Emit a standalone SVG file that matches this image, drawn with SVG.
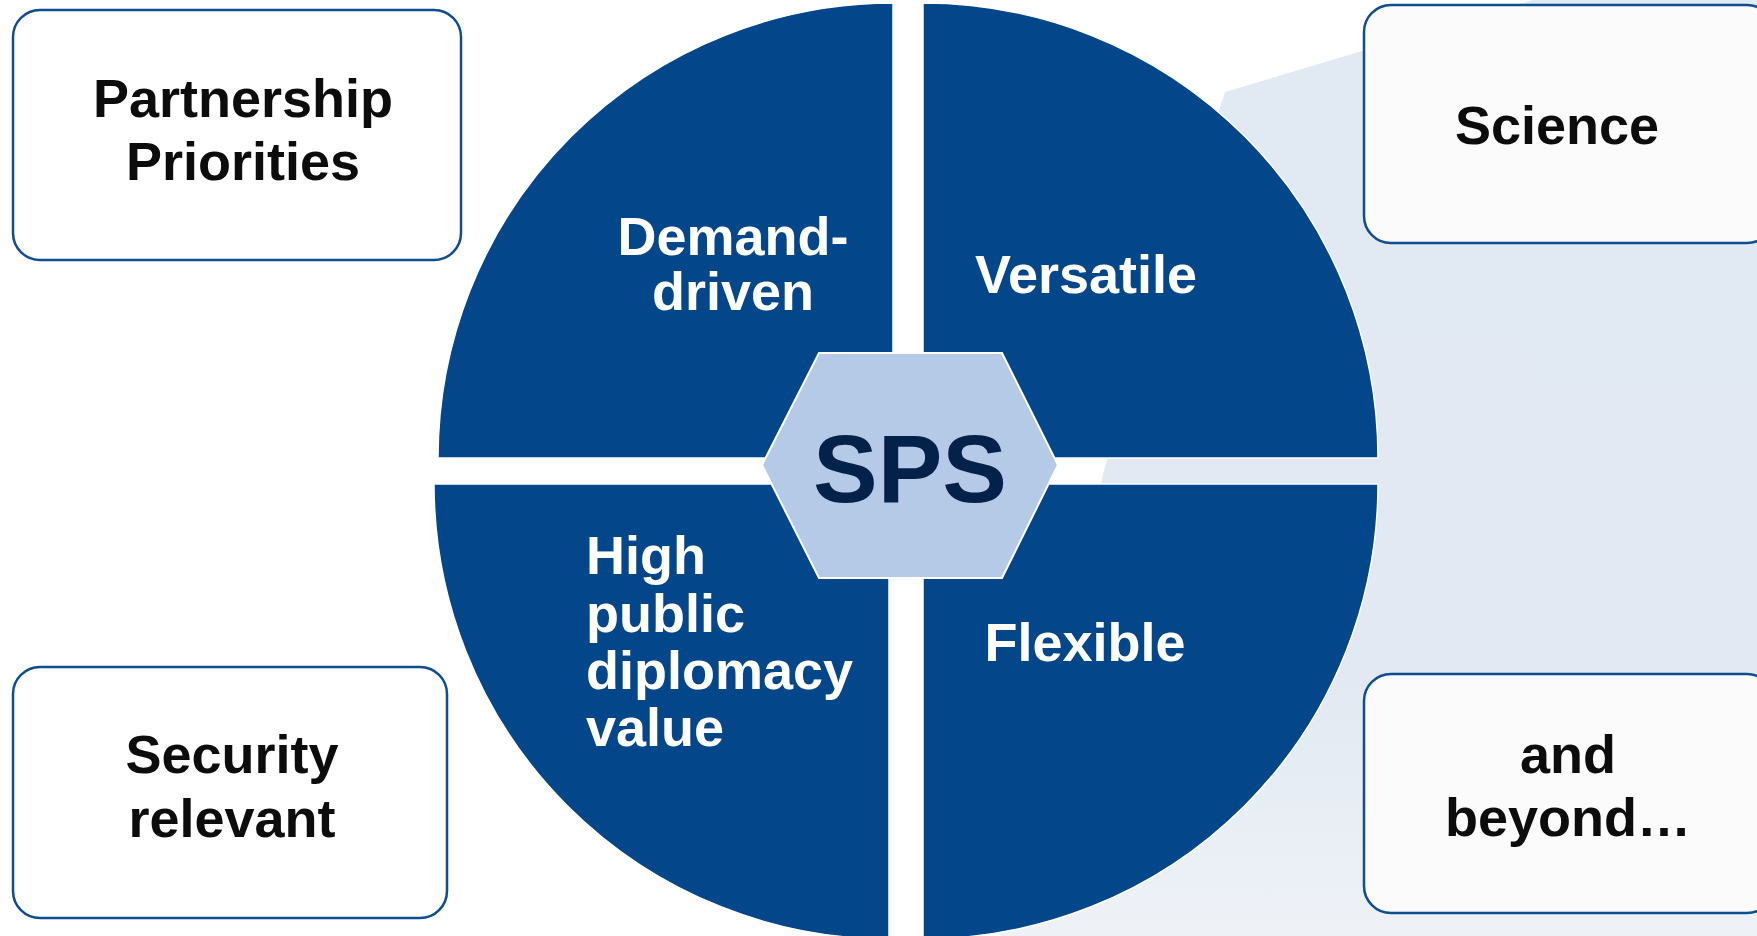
<svg xmlns="http://www.w3.org/2000/svg" width="1757" height="936" viewBox="0 0 1757 936">
  <defs>
    <linearGradient id="bgGrad" gradientUnits="userSpaceOnUse" x1="0" y1="0" x2="0" y2="936">
      <stop offset="0" stop-color="#e1e9f2"/>
      <stop offset="0.72" stop-color="#e2e9f2"/>
      <stop offset="1" stop-color="#eef2f7"/>
    </linearGradient>
  </defs>
  <style>
    .quad { fill: #03468a; stroke: #ffffff; stroke-width: 1.5; }
    .box { stroke: #0e4d8f; stroke-width: 2.5; }
    .boxtxt { font-family: "Liberation Sans", Arial, sans-serif; font-weight: bold; font-size: 54px; fill: #0c0c0c; text-anchor: middle; }
    .qtxt { font-family: "Liberation Sans", Arial, sans-serif; font-weight: bold; font-size: 54px; fill: #ffffff; }
    .mid { text-anchor: middle; }
    .hex { fill: #b5cae7; stroke: #ffffff; stroke-width: 2; }
    .sps { font-family: "Liberation Sans", Arial, sans-serif; font-weight: bold; font-size: 97px; fill: #032249; text-anchor: middle; }
  </style>
  <rect x="0" y="0" width="1757" height="936" fill="#ffffff"/>
  <polygon id="backdrop" points="1533,0 1225,92 1104,470 1000,936 1757,936 1757,0" fill="url(#bgGrad)"/>

  <g id="connectors"/>

  <g id="quad-demand">
    <path class="quad" d="M893,458 L438,458 A455,455 0 0 1 893,3 Z"/>
    <text class="qtxt mid" x="733" y="255">Demand-</text>
    <text class="qtxt mid" x="733" y="310">driven</text>
  </g>
  <g id="quad-versatile">
    <path class="quad" d="M923,458 L923,3 A455,455 0 0 1 1378,458 Z"/>
    <text class="qtxt mid" x="1086" y="293">Versatile</text>
  </g>
  <g id="quad-diplomacy">
    <path class="quad" d="M889,484 L889,939 A455,455 0 0 1 434,484 Z"/>
    <text class="qtxt" x="586" y="574">High</text>
    <text class="qtxt" x="586" y="631.5">public</text>
    <text class="qtxt" x="586" y="689">diplomacy</text>
    <text class="qtxt" x="586" y="746">value</text>
  </g>
  <g id="quad-flexible">
    <path class="quad" d="M923,484 L1378,484 A455,455 0 0 1 923,939 Z"/>
    <text class="qtxt mid" x="1085" y="661">Flexible</text>
  </g>

  <g id="sps-hub">
    <polygon class="hex" points="762,465 819,353 1002,353 1058,465 1002,578 819,578"/>
    <text class="sps" x="910" y="502">SPS</text>
  </g>

  <g id="box-partnership">
    <rect class="box" x="13" y="10" width="448" height="250" rx="27" ry="27" fill="#ffffff"/>
    <text class="boxtxt" x="243" y="117">Partnership</text>
    <text class="boxtxt" x="243" y="180">Priorities</text>
  </g>
  <g id="box-security">
    <rect class="box" x="13" y="667" width="434" height="251" rx="27" ry="27" fill="#ffffff"/>
    <text class="boxtxt" x="232" y="773">Security</text>
    <text class="boxtxt" x="232" y="837">relevant</text>
  </g>
  <g id="box-science">
    <rect class="box" x="1364" y="5" width="410" height="238" rx="27" ry="27" fill="#fbfbfc"/>
    <text class="boxtxt" x="1557" y="144">Science</text>
  </g>
  <g id="box-beyond">
    <rect class="box" x="1364" y="674" width="410" height="239" rx="27" ry="27" fill="#fbfbfc"/>
    <text class="boxtxt" x="1568" y="773">and</text>
    <text class="boxtxt" x="1568" y="836">beyond…</text>
  </g>
</svg>
